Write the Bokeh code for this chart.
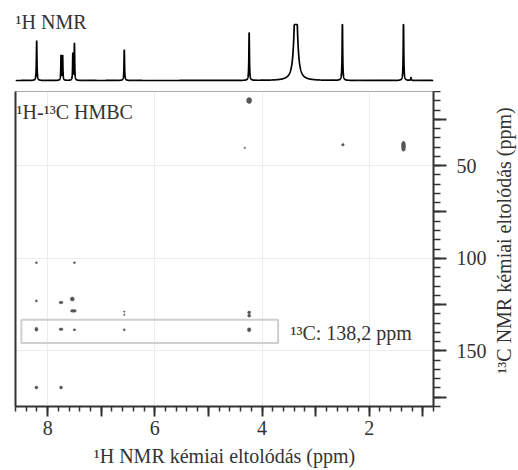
import math
import numpy as np
from bokeh.plotting import figure
from bokeh.layouts import column, row
from bokeh.models import Range1d, LinearAxis, FixedTicker, CustomJSTickFormatter
from bokeh.core.properties import value
from bokeh.embed import file_html
from bokeh.resources import INLINE

# ---- 1H spectrum (peak list) ----
h_shift = [8.205, 7.750, 7.720, 7.530, 7.500, 6.570, 4.240, 3.370, 2.500, 1.360, 1.220]
h_height = [40, 25, 25, 27, 37, 31, 48, 100, 60, 60, 3]
h_width = [0.006, 0.005, 0.005, 0.005, 0.005, 0.006, 0.006, 0.032, 0.006, 0.006, 0.006]
h_clip = 56  # spectrum is clipped at this level in the original

# ---- HMBC cross peaks (1H ppm, 13C ppm, extent in H and C) ----
hmbc_h = [4.24, 4.32, 2.49, 1.36, 8.21, 7.50, 8.21, 7.75, 7.54, 7.52, 6.57, 6.57,
          4.24, 4.24, 8.21, 7.75, 7.50, 6.57, 4.24, 8.21, 7.75]
hmbc_c = [14.9, 40.4, 38.8, 39.6, 102.4, 102.4, 123.0, 123.9, 122.0, 128.4, 128.8, 130.5,
          129.3, 131.0, 138.3, 138.3, 138.6, 138.6, 138.6, 169.8, 169.8]
hmbc_wh = [0.093, 0.028, 0.047, 0.075, 0.037, 0.037, 0.037, 0.075, 0.075, 0.11, 0.028, 0.028,
           0.056, 0.056, 0.056, 0.075, 0.047, 0.037, 0.065, 0.056, 0.056]
hmbc_wc = [3.2, 0.8, 1.35, 5.4, 1.1, 1.1, 1.1, 1.35, 2.2, 1.6, 0.8, 0.8,
           1.6, 1.6, 2.2, 1.35, 1.1, 1.1, 2.2, 1.6, 1.6]

# highlighted 13C row
box_h = [8.49, 3.70]
box_c = [133.2, 145.7]

# axes
x_lim = [8.6, 0.8]
y_lim = [180, 10]
x_major = [1, 2, 3, 4, 5, 6, 7, 8]
x_minor = [round(0.8 + 0.2 * i, 1) for i in range(40)]
y_major = [25, 50, 75, 100, 125, 150, 175]
y_minor = list(range(10, 181, 5))
x_grid = [2, 4, 6, 8]
y_grid = [50, 100, 150]

FONT = "Liberation Serif"
TXT = "#333333"
AX = "#333333"

MAIN_W = 494
SIDE_W = 24

xr = Range1d(x_lim[0], x_lim[1])

# ---- top 1D spectrum ----
top = figure(width=MAIN_W, height=91, x_range=xr, y_range=Range1d(-11, 80),
             output_backend="svg", toolbar_location=None,
             x_axis_location=None, y_axis_location=None,
             min_border_left=15, min_border_right=61, min_border_top=0, min_border_bottom=0)
top.outline_line_color = None
top.xgrid.visible = False
top.ygrid.visible = False

xs = np.linspace(x_lim[0], x_lim[1], 8000)
spec = np.zeros_like(xs)
for s, h, w in zip(h_shift, h_height, h_width):
    spec += h / (1.0 + ((xs - s) / w) ** 2)
spec = np.minimum(spec, h_clip)
top.line(xs, spec, line_color="black", line_width=1.7)
top.text(x=[8.6], y=[59], text=["¹H NMR"], text_font=value(FONT), text_font_size="20px",
         text_align="left", text_baseline="alphabetic", text_color=TXT)

# ---- 2D HMBC ----
p = figure(width=MAIN_W, height=379, x_range=xr, y_range=Range1d(y_lim[0], y_lim[1]),
           output_backend="svg", toolbar_location=None,
           x_axis_location="below", y_axis_location="right",
           min_border_left=15, min_border_right=61, min_border_top=0, min_border_bottom=64)
p.outline_line_color = "#a8a8a8"
p.outline_line_width = 1

xa = p.below[0]
ya = p.right[0]

left = LinearAxis(ticker=FixedTicker(ticks=[]), major_tick_out=0, major_tick_in=0,
                  minor_tick_out=0, minor_tick_in=0, major_label_standoff=0,
                  major_label_text_font_size="0px", axis_line_width=2, axis_line_color=AX)
p.add_layout(left, "left")

xa.ticker = FixedTicker(ticks=x_major, minor_ticks=x_minor)
xa.formatter = CustomJSTickFormatter(code="return (Math.round(tick) % 2 === 0) ? tick.toFixed(0) : '';")
xa.axis_label = "¹H NMR kémiai eltolódás (ppm)"

ya.ticker = FixedTicker(ticks=y_major, minor_ticks=y_minor)
ya.formatter = CustomJSTickFormatter(code="return (Math.round(tick) % 50 === 0) ? tick.toFixed(0) : '';")

for ax in (xa, ya):
    ax.axis_line_width = 2
    ax.axis_line_color = AX
    ax.major_tick_line_color = AX
    ax.minor_tick_line_color = AX
    ax.major_tick_line_width = 2
    ax.minor_tick_line_width = 1.5
    ax.major_tick_in = 0
    ax.minor_tick_in = 0
    ax.major_label_text_font = FONT
    ax.major_label_text_font_size = "20px"
    ax.major_label_text_color = TXT
    ax.axis_label_text_font = FONT
    ax.axis_label_text_font_size = "20px"
    ax.axis_label_text_font_style = "normal"
    ax.axis_label_text_color = TXT

xa.major_tick_out = 10
xa.minor_tick_out = 5
xa.major_label_standoff = 4
xa.axis_label_standoff = 7
ya.major_tick_out = 13
ya.minor_tick_out = 7
ya.major_label_standoff = 10

p.xgrid.ticker = FixedTicker(ticks=x_grid)
p.ygrid.ticker = FixedTicker(ticks=y_grid)
p.xgrid.grid_line_color = "#ececec"
p.ygrid.grid_line_color = "#ececec"

p.quad(left=[box_h[0]], right=[box_h[1]], bottom=[box_c[0]], top=[box_c[1]],
       fill_color=None, line_color="#cfcfcf", line_width=2)

p.ellipse(x=hmbc_h, y=hmbc_c, width=hmbc_wh, height=hmbc_wc,
          fill_color="#555555", line_color="#555555", line_width=0.5)

p.text(x=[8.58], y=[20.8], text=["¹H-¹³C HMBC"], text_font=value(FONT), text_font_size="20px",
       text_align="left", text_baseline="alphabetic", text_color=TXT)
p.text(x=[3.47], y=[140.4], text=["¹³C: 138,2 ppm"], text_font=value(FONT), text_font_size="20px",
       text_align="left", text_baseline="alphabetic", text_color=TXT)

# ---- right-hand title strip (13C axis title, reading bottom to top) ----
side = figure(width=SIDE_W, height=470, x_range=Range1d(0, SIDE_W), y_range=Range1d(0, 470),
              output_backend="svg", toolbar_location=None,
              x_axis_location=None, y_axis_location=None,
              min_border_left=0, min_border_right=0, min_border_top=0, min_border_bottom=0)
side.outline_line_color = None
side.xgrid.visible = False
side.ygrid.visible = False
side.text(x=[9], y=[230], text=["¹³C NMR kémiai eltolódás (ppm)"], angle=math.pi / 2,
          text_font=value(FONT), text_font_size="20px", text_align="center",
          text_baseline="middle", text_color=TXT)

layout = row(column(top, p, spacing=0), side, spacing=0)
open("out.html", "w").write(file_html(layout, INLINE))
